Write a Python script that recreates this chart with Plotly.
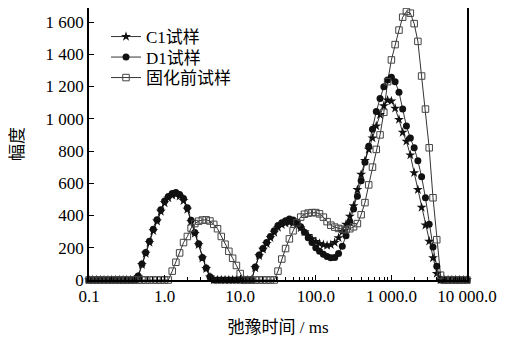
import plotly.graph_objects as go

# relaxation time grid (ms)
t2 = [0.1, 0.112, 0.126, 0.141, 0.158, 0.178, 0.2, 0.224, 0.251, 0.282, 0.316, 0.355, 0.398, 0.447, 0.501, 0.562, 0.631, 0.708, 0.794, 0.891,
      1, 1.12, 1.26, 1.41, 1.58, 1.78, 2.0, 2.24, 2.51, 2.82, 3.16, 3.55, 3.98, 4.47, 5.01, 5.62, 6.31, 7.08, 7.94, 8.91,
      10, 11.2, 12.6, 14.1, 15.8, 17.8, 20.0, 22.4, 25.1, 28.2, 31.6, 35.5, 39.8, 44.7, 50.1, 56.2, 63.1, 70.8, 79.4, 89.1,
      100, 112, 126, 141, 158, 178, 200, 224, 251, 282, 316, 355, 398, 447, 501, 562, 631, 708, 794, 891,
      1000, 1120, 1260, 1410, 1580, 1780, 2000, 2240, 2510, 2820, 3160, 3550, 3980, 4470, 5010, 5620, 6310, 7080, 7940, 8910, 10000]

c1 = [0, 0, 0, 0, 0, 0, 0, 0, 0, 0, 0, 0, 0,
      20, 95, 165, 232, 305, 365, 425, 478, 508, 525, 530, 520, 492, 438, 362, 288, 218, 135, 70, 18,
      0, 0, 0, 0, 0, 0, 0, 0, 0, 0, 0,
      75, 150, 190, 225, 262, 295, 325, 342, 352, 356, 352, 342, 322, 298, 275, 255, 238, 226, 218, 214,
      218, 232, 262, 300, 345, 395, 460, 560, 655, 740, 810, 880, 955, 1025, 1080, 1115, 1110, 1065, 995,
      915, 860, 775, 665, 560, 450, 340, 240, 137, 40,
      0, 0, 0, 0, 0, 0, 0, 0]

d1 = [0, 0, 0, 0, 0, 0, 0, 0, 0, 0, 0, 0, 0,
      25, 100, 170, 240, 315, 373, 435, 490, 518, 537, 542, 530, 505, 448, 370, 295, 225, 140, 75, 20,
      0, 0, 0, 0, 0, 0, 0, 0, 0, 0, 0,
      80, 155, 195, 232, 270, 305, 338, 355, 368, 378, 372, 360, 330, 296, 262, 232, 200, 178, 160, 145,
      138, 140, 165, 210, 275, 360, 440, 520, 615, 730, 830, 935, 1045, 1125, 1198, 1240, 1258, 1230, 1165,
      1060, 955, 880, 820, 740, 640, 510, 345, 205, 85,
      0, 0, 0, 0, 0, 0, 0, 0]

before = [0, 0, 0, 0, 0, 0, 0, 0, 0, 0, 0, 0, 0, 0, 0, 0, 0, 0, 0, 0, 0, 0,
          55, 110, 168, 232, 270, 322, 350, 365, 372, 373, 366, 345, 318, 270, 222, 178, 135, 90, 40,
          0, 0, 0, 0, 0, 0, 0, 0, 0,
          55, 130, 195, 255, 305, 355, 390, 408, 415, 418, 418, 410, 390, 362, 340, 328, 320, 315, 312, 318,
          330, 350, 405, 480, 590, 700, 810, 900, 1040, 1230, 1365, 1460, 1550, 1630, 1665, 1655, 1590, 1480,
          1265, 1060, 820, 510, 250, 30,
          0, 0, 0, 0, 0, 0, 0]

names = ["C1试样", "D1试样", "固化前试样"]

xtick_vals = [0.1, 1, 10, 100, 1000, 10000]
xtick_text = ["0.1", "1.0", "10.0", "100.0", "1 000.0", "10 000.0"]
ytick_vals = [0, 200, 400, 600, 800, 1000, 1200, 1400, 1600]
ytick_text = ["0", "200", "400", "600", "800", "1 000", "1 200", "1 400", "1 600"]

minor_vals = [m * d for d in [0.1, 1, 10, 100, 1000] for m in range(2, 10)]

FONT = "Liberation Serif, Noto Sans CJK SC"

fig = go.Figure()
fig.add_trace(go.Scatter(x=t2, y=c1, name=names[0], mode="lines+markers", legend="legend",
                         line=dict(color="black", width=0.8),
                         marker=dict(symbol="star", size=7.5, color="#111"),
                         cliponaxis=False))
fig.add_trace(go.Scatter(x=t2, y=d1, name=names[1], mode="lines+markers", legend="legend2",
                         line=dict(color="black", width=0.8),
                         marker=dict(symbol="circle", size=7, color="#111"),
                         cliponaxis=False))
fig.add_trace(go.Scatter(x=t2, y=before, name=names[2], mode="lines+markers", legend="legend3",
                         line=dict(color="black", width=0.8),
                         marker=dict(symbol="square-open", size=6.5, color="#444", line=dict(width=1)),
                         cliponaxis=False))

leg_common = dict(xanchor="left", yanchor="middle", bgcolor="rgba(0,0,0,0)",
                  font=dict(size=17, family=FONT), itemsizing="trace", itemwidth=30)
# plot area in figure coords: top 0, bottom 272 (height 272)
fig.update_layout(
    width=502, height=331,
    margin=dict(l=81, r=43, t=0, b=59, autoexpand=False),
    paper_bgcolor="white", plot_bgcolor="white",
    font=dict(family=FONT, size=17, color="black"),
    showlegend=True,
    legend=dict(x=0.045, y=1 - 29 / 272, **leg_common),
    legend2=dict(x=0.045, y=1 - 49.5 / 272, **leg_common),
    legend3=dict(x=0.045, y=1 - 70 / 272, **leg_common),
    xaxis=dict(type="log", range=[-1, 4], tickvals=xtick_vals, ticktext=xtick_text,
               ticks="inside", ticklen=5, tickcolor="black", tickwidth=1,
               showline=True, linecolor="black", linewidth=1.5, mirror=True,
               showgrid=False, zeroline=False, automargin=False,
               minor=dict(tickvals=minor_vals, ticks="inside", ticklen=3, tickcolor="black", showgrid=False),
               title=dict(text="弛豫时间 / ms", font=dict(size=17), standoff=16),
               tickfont=dict(size=17)),
    yaxis=dict(range=[0, 1687], tickvals=ytick_vals, ticktext=ytick_text,
               ticks="inside", ticklen=5, tickcolor="black", tickwidth=1,
               showline=True, linecolor="black", linewidth=1.5, mirror=True,
               showgrid=False, zeroline=False, automargin=False,
               title=dict(text="幅度", font=dict(size=17), standoff=20),
               tickfont=dict(size=17)),
)

fig.write_html("out.html")
